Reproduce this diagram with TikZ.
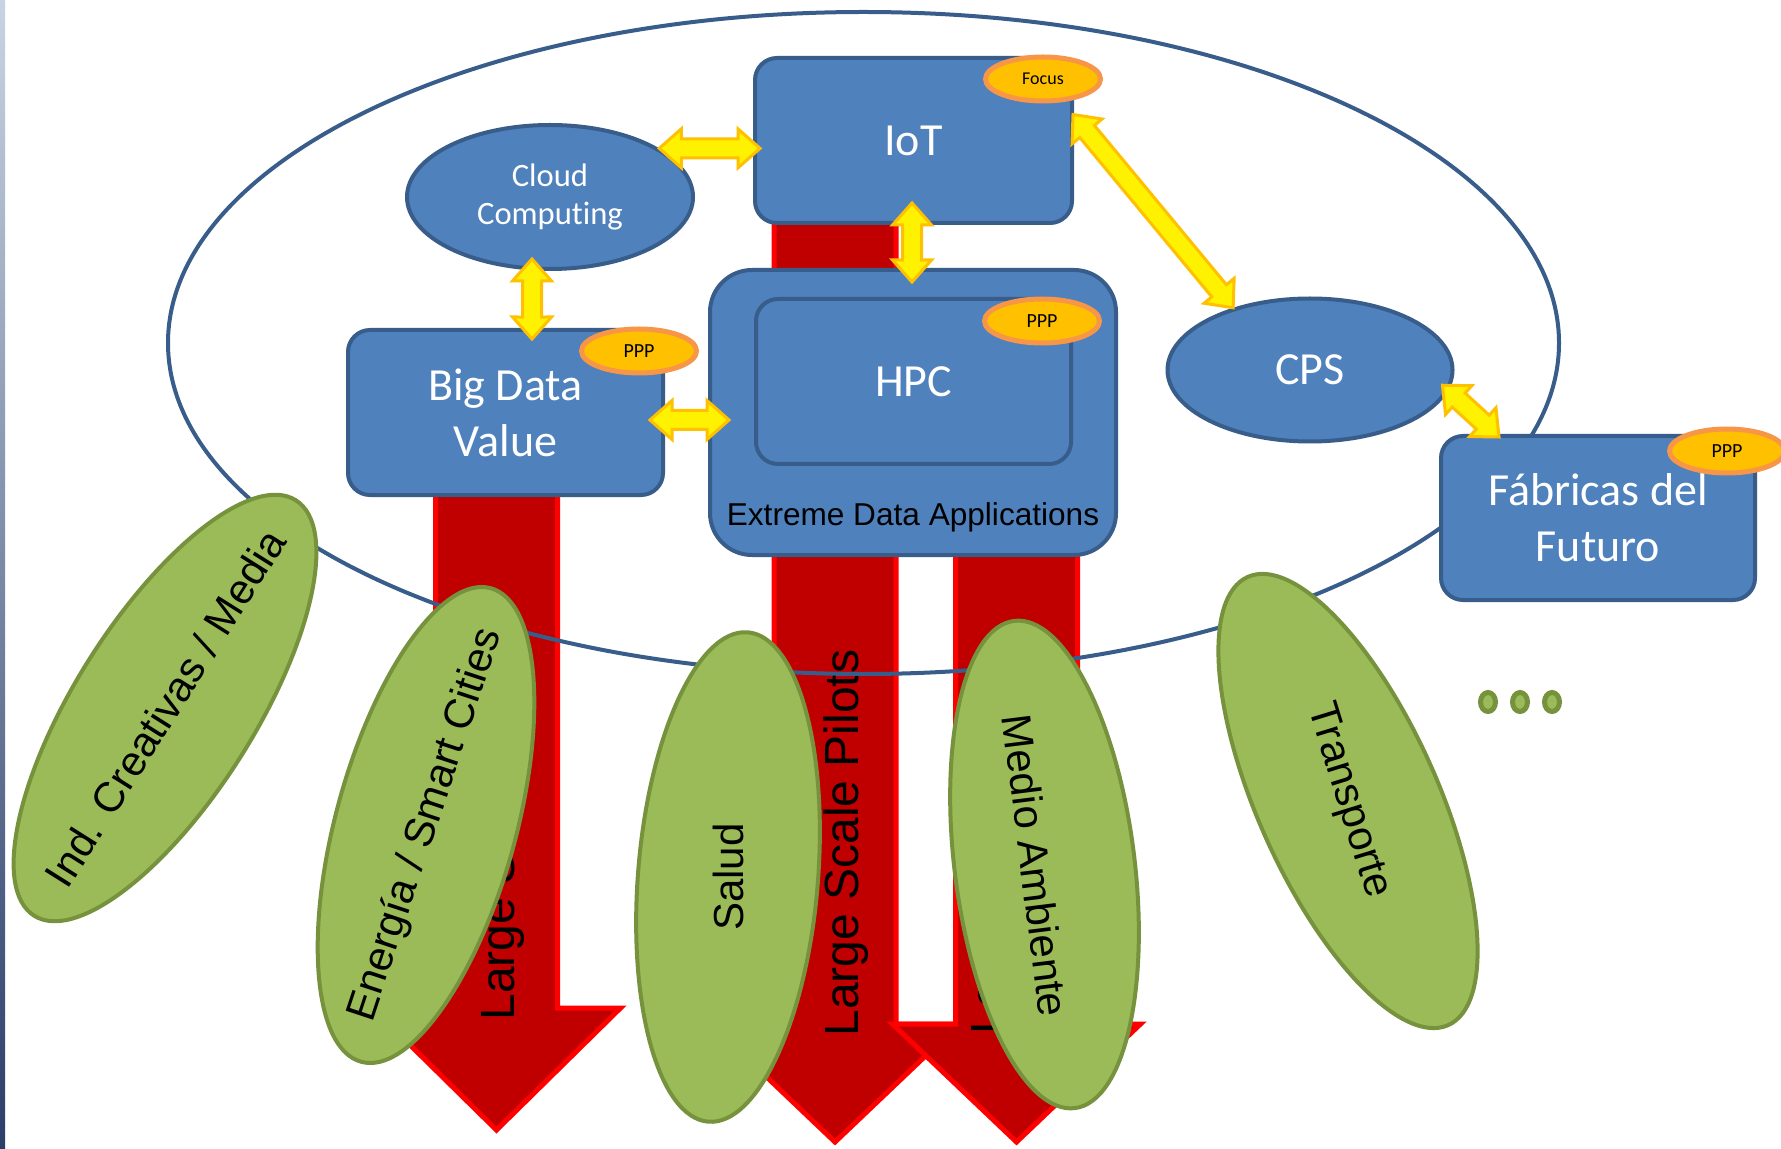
\documentclass[tikz,border=0pt]{standalone}
\usepackage{fontspec}
\setmainfont{Carlito}[Ligatures=NoCommon]
\newfontfamily\arialfont{Liberation Sans}
\usepackage{graphicx}
\usetikzlibrary{shapes,positioning,calc}
\definecolor{bluefill}{HTML}{4F81BD}
\definecolor{blueedge}{HTML}{385D8A}
\definecolor{greenfill}{HTML}{9BBB59}
\definecolor{greenedge}{HTML}{76923C}
\definecolor{redfill}{HTML}{C00000}
\definecolor{rededge}{HTML}{FF0000}
\definecolor{gold}{HTML}{FFC000}
\definecolor{badgeedge}{HTML}{F79646}
\definecolor{striptop}{HTML}{C9D4E2}
\definecolor{stripbot}{HTML}{2B3D69}

\begin{document}
\begin{tikzpicture}[x=0.5pt,y=-0.5pt,node distance=16pt,
	box/.style={draw=blueedge,fill=bluefill,line width=2pt,rounded corners=11pt,text=white,align=center,inner sep=0pt,font=\fontsize{23}{28}\selectfont},
	oval/.style={ellipse,draw=blueedge,fill=bluefill,line width=2pt,text=white,align=center,inner sep=0pt},
	badge/.style={ellipse,draw=badgeedge,fill=gold,line width=2.5pt,minimum width=57.5pt,minimum height=22pt,inner sep=0pt,font=\fontsize{10}{12}\selectfont},
	sector/.style={ellipse,draw=greenedge,fill=greenfill,line width=2pt,minimum width=245.5pt,minimum height=90pt,inner sep=0pt,font=\arialfont\fontsize{21}{25}\selectfont},
	dot/.style={ellipse,draw=greenedge,fill=greenfill,line width=2.5pt,minimum width=7.5pt,minimum height=9.5pt,inner sep=0pt},
	pilot/.style={draw=rededge,fill=redfill,line width=2.5pt},
	pilottext/.style={rotate=90,anchor=base west,inner sep=0pt,font=\arialfont\fontsize{24}{28}\selectfont},
	dblarrow/.style={draw=gold,fill=yellow,line width=1.5pt,to path={
		-- ($(\tikztostart)!14.7pt!41.55:(\tikztotarget)$)
		-- ($(\tikztostart)!11.98pt!23.36:(\tikztotarget)$)
		-- ($(\tikztotarget)!11.98pt!-23.36:(\tikztostart)$)
		-- ($(\tikztotarget)!14.7pt!-41.55:(\tikztostart)$)
		-- (\tikztotarget)
		-- ($(\tikztotarget)!14.7pt!41.55:(\tikztostart)$)
		-- ($(\tikztotarget)!11.98pt!23.36:(\tikztostart)$)
		-- ($(\tikztostart)!11.98pt!-23.36:(\tikztotarget)$)
		-- ($(\tikztostart)!14.7pt!-41.55:(\tikztotarget)$)
		-- cycle}}]
			\useasboundingbox (0,0) rectangle (1781,1149);
			\fill[white] (0,0) rectangle (1781,1149);
			\shade[top color=striptop,bottom color=stripbot] (0,0) rectangle (5,1149);

			\draw[pilot] (435.5,440) -- (435.5,1008) -- (372.5,1008) -- (496.5,1130) -- (620.5,1008) -- (557.5,1008) -- (557.5,440) -- cycle;
			\draw[pilot] (774,200) -- (774,1024) -- (711,1024) -- (835,1142) -- (959,1024) -- (896,1024) -- (896,200) -- cycle;
			\draw[pilot] (955.5,480) -- (955.5,1024) -- (892.5,1024) -- (1016.5,1142) -- (1140.5,1024) -- (1077.5,1024) -- (1077.5,480) -- cycle;
			\node[pilottext] (LSP1) at (514,1021) {Large Scale Pilots};
			\node[pilottext] (LSP2) at (858,1037) {Large Scale Pilots};
			\node[pilottext] (LSP3) at (1004,1035) {Large Scale Pilots};

			\node[ellipse,draw=blueedge,line width=2pt,minimum width=695.5pt,minimum height=331pt] (Scope) at (863.5,343) {};

			\node[oval,minimum width=143pt,minimum height=72pt,font=\fontsize{16.3}{19}\selectfont] (Cloud) at (550,197) {Cloud\\Computing};
			\node[box,minimum width=158.5pt,minimum height=82.5pt] (IoT) at (913.5,140.5) {IoT};
			\node[box,rounded corners=21pt,minimum width=203pt,minimum height=142.5pt] (EDA) at (913,412.5) {};
			\node[box,minimum width=157.5pt,minimum height=82.5pt] (HPC) at (913.5,381.5) {HPC};
			\node[anchor=base,inner sep=0pt,font=\arialfont\fontsize{15.8}{19}\selectfont] (EDAl) at (913,525) {Extreme Data Applications};
			\node[box,minimum width=157.5pt,minimum height=82.5pt] (BDV) at (505.5,412.5) {Big Data\\Value};
			\node[oval,minimum width=142.5pt,minimum height=71.5pt,font=\fontsize{23}{28}\selectfont] (CPS) at (1310,370) {CPS};
			\node[box,minimum width=157pt,minimum height=82pt] (FdF) at (1598,518) {Fábricas del\\Futuro};

			\node[badge,font=\fontsize{9}{11}\selectfont] (Focus) at ([shift={(-31,23)}]IoT.north east) {Focus};
			\node[badge] (PPP1) at ([shift={(-31,24)}]HPC.north east) {PPP};
			\node[badge] (PPP2) at ([shift={(-26,23)}]BDV.north east) {PPP};
			\node[badge] (PPP3) at ([shift={(-30,17)}]FdF.north east) {PPP};

			\coordinate (c1a) at (Cloud.24);
			\coordinate (c1b) at ($(Cloud.24 -| IoT.west)+(7,0)$);
			\coordinate (c2a) at ($(Cloud.south)+(-18,-12)$);
			\coordinate (c2b) at ($(BDV.north)+(26.5,11)$);
			\coordinate (c3a) at ($(IoT.south)+(-1.5,-22)$);
			\coordinate (c3b) at ($(EDA.north)+(-1,14)$);
			\coordinate (c4a) at ($(BDV.east)+(-15,7.5)$);
			\coordinate (c4b) at ($(EDA.west)+(21,7.5)$);
			\coordinate (c5a) at ($(IoT.east)+(-1,-26)$);
			\coordinate (c5b) at (CPS.141);
			\coordinate (c6a) at ($(CPS.-7)+(-8,-2)$);
			\coordinate (c6b) at ($(FdF.north west)+(60,3)$);
			\path (c1a) edge[dblarrow] (c1b)
				(c2a) edge[dblarrow] (c2b)
				(c3a) edge[dblarrow] (c3b)
				(c4a) edge[dblarrow] (c4b)
				(c5a) edge[dblarrow] (c5b)
				(c6a) edge[dblarrow] (c6b);

			\node[sector,rotate=57.8] (ICM) at (165,708) {\makebox[0pt]{Ind. Creativas / Media}};
			\node[sector,rotate=74.7] (ESC) at (426,825) {\makebox[0pt]{\rotatebox[origin=c]{-3}{Energía / Smart Cities}}};
			\node[sector,rotate=85.4] (Sal) at (728,877) {\makebox[0pt]{\rotatebox[origin=c]{4.6}{Salud}}};
			\node[sector,rotate=-82.9] (MA) at (1044.5,864.5) {\makebox[0pt]{\raisebox{-12pt}[0pt][0pt]{Medio Ambiente}}};
			\node[sector,rotate=-65.9] (Tr) at (1348,801) {\makebox[0pt]{\rotatebox[origin=c]{-7}{Transporte}}};

			\node[dot] (D1) at (1488,702) {};
			\node[dot,right of=D1] (D2) {};
			\node[dot,right of=D2] (D3) {};
\end{tikzpicture}
\end{document}
